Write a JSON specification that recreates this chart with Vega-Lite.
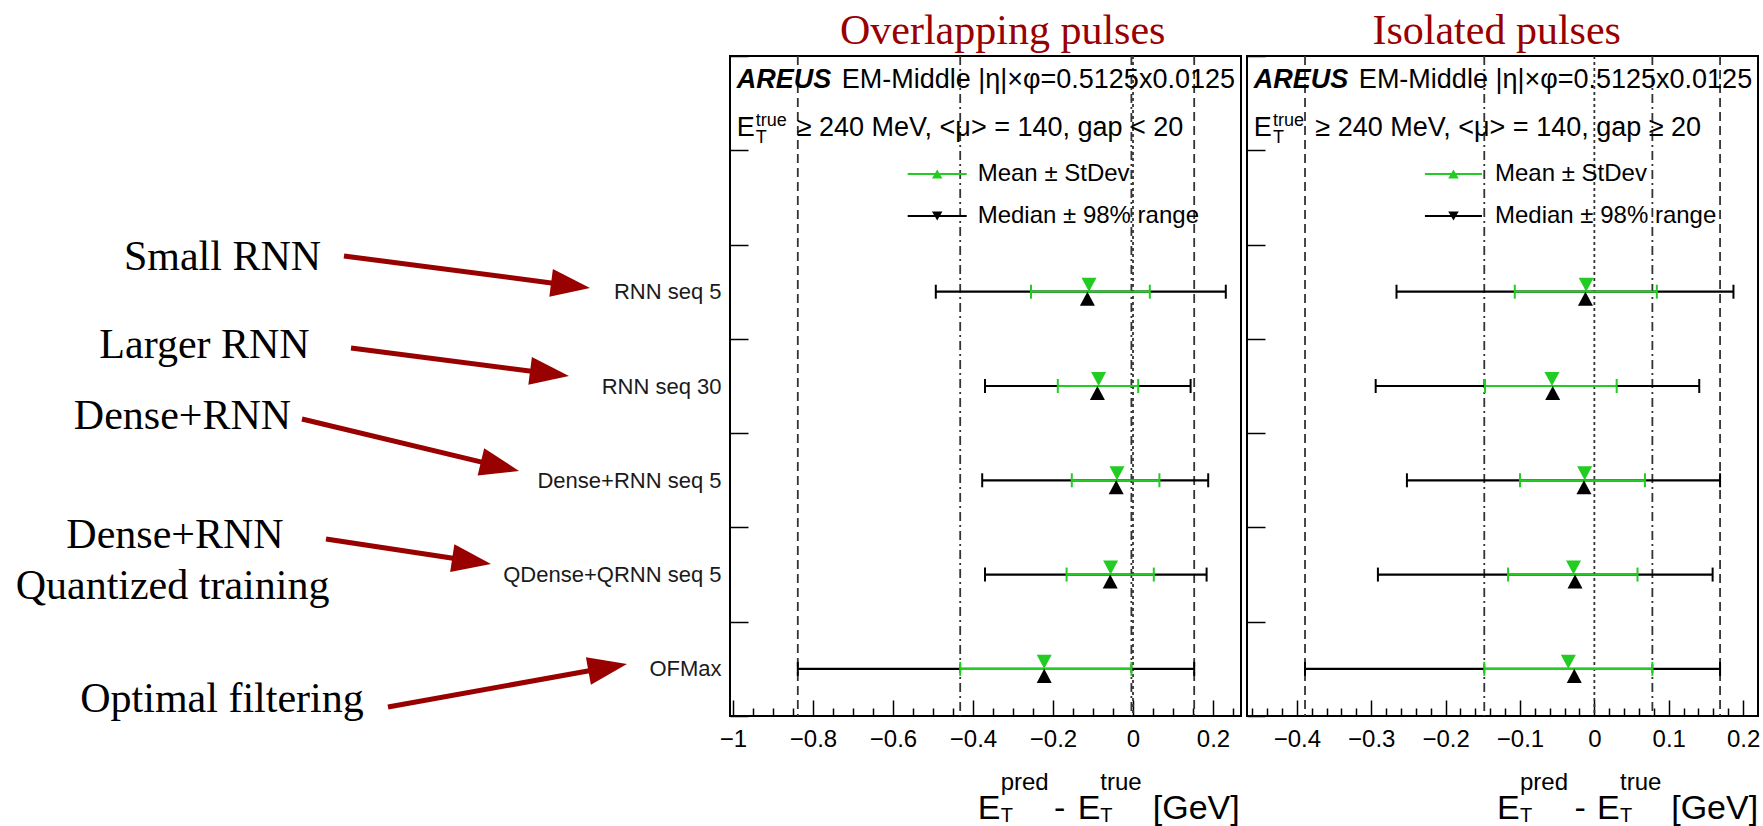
{
"$schema": "https://vega.github.io/schema/vega-lite/v6.json",
"background": "white",
"padding": {"left": 0, "top": 9, "right": 0, "bottom": 0},
"bounds": "flush",
"spacing": 6,
"config": {
  "view": {"stroke": "black", "strokeWidth": 2},
  "font": "Liberation Sans",
  "text": {"font": "Liberation Sans", "color": "black"},
  "axis": {"grid": false, "domain": false}
},
"datasets": {
  "overlap": [
    {"model": "RNN seq 5", "stat": "Median ± 98% range", "center": -0.114, "lo": -0.493, "hi": 0.232},
    {"model": "RNN seq 30", "stat": "Median ± 98% range", "center": -0.089, "lo": -0.370, "hi": 0.144},
    {"model": "Dense+RNN seq 5", "stat": "Median ± 98% range", "center": -0.042, "lo": -0.377, "hi": 0.188},
    {"model": "QDense+QRNN seq 5", "stat": "Median ± 98% range", "center": -0.057, "lo": -0.370, "hi": 0.184},
    {"model": "OFMax", "stat": "Median ± 98% range", "center": -0.222, "lo": -0.838, "hi": 0.153},
    {"model": "RNN seq 5", "stat": "Mean ± StDev", "center": -0.110, "lo": -0.255, "hi": 0.042},
    {"model": "RNN seq 30", "stat": "Mean ± StDev", "center": -0.086, "lo": -0.188, "hi": 0.013},
    {"model": "Dense+RNN seq 5", "stat": "Mean ± StDev", "center": -0.040, "lo": -0.153, "hi": 0.066},
    {"model": "QDense+QRNN seq 5", "stat": "Mean ± StDev", "center": -0.056, "lo": -0.166, "hi": 0.052},
    {"model": "OFMax", "stat": "Mean ± StDev", "center": -0.222, "lo": -0.432, "hi": -0.004}
  ],
  "isolated": [
    {"model": "RNN seq 5", "stat": "Median ± 98% range", "center": -0.012, "lo": -0.266, "hi": 0.187},
    {"model": "RNN seq 30", "stat": "Median ± 98% range", "center": -0.056, "lo": -0.294, "hi": 0.141},
    {"model": "Dense+RNN seq 5", "stat": "Median ± 98% range", "center": -0.014, "lo": -0.252, "hi": 0.169},
    {"model": "QDense+QRNN seq 5", "stat": "Median ± 98% range", "center": -0.026, "lo": -0.291, "hi": 0.159},
    {"model": "OFMax", "stat": "Median ± 98% range", "center": -0.027, "lo": -0.389, "hi": 0.169},
    {"model": "RNN seq 5", "stat": "Mean ± StDev", "center": -0.011, "lo": -0.107, "hi": 0.084},
    {"model": "RNN seq 30", "stat": "Mean ± StDev", "center": -0.057, "lo": -0.147, "hi": 0.030},
    {"model": "Dense+RNN seq 5", "stat": "Mean ± StDev", "center": -0.013, "lo": -0.100, "hi": 0.068},
    {"model": "QDense+QRNN seq 5", "stat": "Mean ± StDev", "center": -0.028, "lo": -0.116, "hi": 0.058},
    {"model": "OFMax", "stat": "Mean ± StDev", "center": -0.035, "lo": -0.148, "hi": 0.078}
  ]
},
"resolve": {
  "scale": {"x": "independent", "y": "independent", "color": "independent", "shape": "independent", "strokeDash": "independent"}
},
"hconcat": [
  {
    "width": 724, "height": 660,
    "view": {"stroke": null, "fill": "white"},
    "layer": [
      {"data": {"values": [{}]}, "mark": {"type": "text", "text": "Small RNN", "font": "Liberation Serif", "fontSize": 42, "align": "center", "baseline": "alphabetic", "color": "black"},
       "encoding": {"x": {"datum": 0.3073, "type": "quantitative", "scale": {"domain": [0, 1]}, "axis": null}, "y": {"datum": 0.6758, "type": "quantitative", "scale": {"domain": [0, 1]}, "axis": null}}},
      {"data": {"values": [{}]}, "mark": {"type": "text", "text": "Larger RNN", "font": "Liberation Serif", "fontSize": 42, "align": "center", "baseline": "alphabetic", "color": "black"},
       "encoding": {"x": {"datum": 0.2825, "type": "quantitative", "axis": null}, "y": {"datum": 0.5424, "type": "quantitative", "axis": null}}},
      {"data": {"values": [{}]}, "mark": {"type": "text", "text": "Dense+RNN", "font": "Liberation Serif", "fontSize": 42, "align": "center", "baseline": "alphabetic", "color": "black"},
       "encoding": {"x": {"datum": 0.2521, "type": "quantitative", "axis": null}, "y": {"datum": 0.4348, "type": "quantitative", "axis": null}}},
      {"data": {"values": [{}]}, "mark": {"type": "text", "text": "Dense+RNN", "font": "Liberation Serif", "fontSize": 42, "align": "center", "baseline": "alphabetic", "color": "black"},
       "encoding": {"x": {"datum": 0.2417, "type": "quantitative", "axis": null}, "y": {"datum": 0.2545, "type": "quantitative", "axis": null}}},
      {"data": {"values": [{}]}, "mark": {"type": "text", "text": "Quantized training", "font": "Liberation Serif", "fontSize": 42, "align": "center", "baseline": "alphabetic", "color": "black"},
       "encoding": {"x": {"datum": 0.2383, "type": "quantitative", "axis": null}, "y": {"datum": 0.1773, "type": "quantitative", "axis": null}}},
      {"data": {"values": [{}]}, "mark": {"type": "text", "text": "Optimal filtering", "font": "Liberation Serif", "fontSize": 42, "align": "center", "baseline": "alphabetic", "color": "black"},
       "encoding": {"x": {"datum": 0.3066, "type": "quantitative", "axis": null}, "y": {"datum": 0.006, "type": "quantitative", "axis": null}}},
      {"data": {"values": [{}]}, "mark": {"type": "rule", "color": "#990000", "strokeWidth": 5},
       "encoding": {"x": {"datum": 0.4751, "type": "quantitative", "axis": null}, "y": {"datum": 0.6970, "type": "quantitative", "axis": null}, "x2": {"datum": 0.7876}, "y2": {"datum": 0.6524}}},
      {"data": {"values": [{}]}, "mark": {"type": "point", "shape": "M0,0L-2.8,-1L-2.8,1Z", "size": 784, "angle": 7.4, "filled": true, "color": "#990000", "opacity": 1, "strokeWidth": 0},
       "encoding": {"x": {"datum": 0.8149, "type": "quantitative", "axis": null}, "y": {"datum": 0.6485, "type": "quantitative", "axis": null}}},
      {"data": {"values": [{}]}, "mark": {"type": "rule", "color": "#990000", "strokeWidth": 5},
       "encoding": {"x": {"datum": 0.4848, "type": "quantitative", "axis": null}, "y": {"datum": 0.5576, "type": "quantitative", "axis": null}, "x2": {"datum": 0.7586}, "y2": {"datum": 0.5189}}},
      {"data": {"values": [{}]}, "mark": {"type": "point", "shape": "M0,0L-2.8,-1L-2.8,1Z", "size": 784, "angle": 7.3, "filled": true, "color": "#990000", "opacity": 1, "strokeWidth": 0},
       "encoding": {"x": {"datum": 0.7859, "type": "quantitative", "axis": null}, "y": {"datum": 0.5152, "type": "quantitative", "axis": null}}},
      {"data": {"values": [{}]}, "mark": {"type": "rule", "color": "#990000", "strokeWidth": 5},
       "encoding": {"x": {"datum": 0.4171, "type": "quantitative", "axis": null}, "y": {"datum": 0.45, "type": "quantitative", "axis": null}, "x2": {"datum": 0.6899}, "y2": {"datum": 0.3783}}},
      {"data": {"values": [{}]}, "mark": {"type": "point", "shape": "M0,0L-2.8,-1L-2.8,1Z", "size": 784, "angle": 13.5, "filled": true, "color": "#990000", "opacity": 1, "strokeWidth": 0},
       "encoding": {"x": {"datum": 0.7169, "type": "quantitative", "axis": null}, "y": {"datum": 0.3712, "type": "quantitative", "axis": null}}},
      {"data": {"values": [{}]}, "mark": {"type": "rule", "color": "#990000", "strokeWidth": 5},
       "encoding": {"x": {"datum": 0.4503, "type": "quantitative", "axis": null}, "y": {"datum": 0.2682, "type": "quantitative", "axis": null}, "x2": {"datum": 0.6508}, "y2": {"datum": 0.2348}}},
      {"data": {"values": [{}]}, "mark": {"type": "point", "shape": "M0,0L-2.8,-1L-2.8,1Z", "size": 784, "angle": 8.6, "filled": true, "color": "#990000", "opacity": 1, "strokeWidth": 0},
       "encoding": {"x": {"datum": 0.6782, "type": "quantitative", "axis": null}, "y": {"datum": 0.2303, "type": "quantitative", "axis": null}}},
      {"data": {"values": [{}]}, "mark": {"type": "rule", "color": "#990000", "strokeWidth": 5},
       "encoding": {"x": {"datum": 0.5359, "type": "quantitative", "axis": null}, "y": {"datum": 0.0136, "type": "quantitative", "axis": null}, "x2": {"datum": 0.8388}, "y2": {"datum": 0.0735}}},
      {"data": {"values": [{}]}, "mark": {"type": "point", "shape": "M0,0L-2.8,-1L-2.8,1Z", "size": 784, "angle": -10.2, "filled": true, "color": "#990000", "opacity": 1, "strokeWidth": 0},
       "encoding": {"x": {"datum": 0.866, "type": "quantitative", "axis": null}, "y": {"datum": 0.0788, "type": "quantitative", "axis": null}}}
    ]
  },
  {
    "width": 511, "height": 660,
    "data": {"name": "overlap"},
    "resolve": {"axis": {"x": "independent"}},
    "layer": [
      {"transform": [{"filter": "datum.model === 'OFMax'"}],
       "mark": {"type": "rule", "color": "#333333", "strokeWidth": 1.8},
       "encoding": {
         "x": {"field": "lo", "type": "quantitative", "title": null,
               "scale": {"domain": [-1.0075, 0.27], "nice": false, "zero": false},
               "axis": {"title": null, "orient": "bottom", "domain": false, "grid": false,
                        "values": [-1, -0.8, -0.6, -0.4, -0.2, 0, 0.2], "format": "~g",
                        "tickSize": -16, "tickColor": "black", "tickWidth": 1.5,
                        "labelFont": "Liberation Sans", "labelFontSize": 24, "labelColor": "black", "labelPadding": 27,
                        "labelOverlap": false, "labelFlush": false}},
         "strokeDash": {"field": "stat", "type": "nominal", "scale": {"domain": ["Mean ± StDev", "Median ± 98% range"], "range": [[9, 4, 2, 4], [9, 5]]}, "legend": null}
       }},
      {"transform": [{"filter": "datum.model === 'OFMax'"}],
       "mark": {"type": "rule", "color": "#333333", "strokeWidth": 1.8},
       "encoding": {
         "x": {"field": "hi", "type": "quantitative", "title": null,
               "axis": {"title": null, "orient": "top", "domain": false, "grid": false, "ticks": false, "labels": false}},
         "strokeDash": {"field": "stat", "type": "nominal", "legend": null}
       }},
      {"data": {"values": [{}]},
       "mark": {"type": "rule", "color": "#333333", "strokeWidth": 1.8, "strokeDash": [3, 3]},
       "encoding": {"x": {"datum": 0, "type": "quantitative",
               "axis": {"title": null, "orient": "bottom", "domain": false, "grid": false,
                        "values": [-0.95, -0.9, -0.85, -0.75, -0.7, -0.65, -0.55, -0.5, -0.45, -0.35, -0.3, -0.25, -0.15, -0.1, -0.05, 0.05, 0.1, 0.15, 0.25],
                        "tickSize": -8, "tickColor": "black", "tickWidth": 1.5, "labels": false}}}},
      {"mark": {"type": "rule", "strokeWidth": 2.2},
       "encoding": {
         "x": {"field": "lo", "type": "quantitative", "title": null, "axis": null},
         "x2": {"field": "hi"},
         "y": {"field": "model", "type": "nominal", "title": null,
               "scale": {"type": "band", "domain": ["hdr1", "hdr2", "RNN seq 5", "RNN seq 30", "Dense+RNN seq 5", "QDense+QRNN seq 5", "OFMax"], "paddingInner": 0, "paddingOuter": 0},
               "axis": {"title": null, "domain": false, "grid": false, "tickBand": "extent", "tickSize": -18, "tickColor": "black", "tickWidth": 1.5,
                        "labelFont": "Liberation Sans", "labelFontSize": 22, "labelColor": "#1a1a1a", "labelPadding": 27, "labelLimit": 400,
                        "labelExpr": "datum.value === 'hdr1' || datum.value === 'hdr2' ? '' : datum.label"}},
         "color": {"field": "stat", "type": "nominal",
                   "scale": {"domain": ["Mean ± StDev", "Median ± 98% range"], "range": ["#22cc22", "black"]}, "legend": null}
       }},
      {"mark": {"type": "tick", "thickness": 2, "size": 14, "opacity": 1},
       "encoding": {"x": {"field": "lo", "type": "quantitative", "title": null, "axis": null}, "y": {"field": "model", "type": "nominal", "title": null}, "color": {"field": "stat", "type": "nominal", "legend": null}}},
      {"mark": {"type": "tick", "thickness": 2, "size": 14, "opacity": 1},
       "encoding": {"x": {"field": "hi", "type": "quantitative", "title": null, "axis": null}, "y": {"field": "model", "type": "nominal", "title": null}, "color": {"field": "stat", "type": "nominal", "legend": null}}},
      {"mark": {"type": "point", "filled": true, "size": 225, "opacity": 1, "strokeWidth": 0},
       "encoding": {"x": {"field": "center", "type": "quantitative", "title": null, "axis": null}, "y": {"field": "model", "type": "nominal", "title": null},
                    "color": {"field": "stat", "type": "nominal", "legend": null},
                    "shape": {"field": "stat", "type": "nominal", "scale": {"domain": ["Mean ± StDev", "Median ± 98% range"], "range": ["M-1,-1.87L1,-1.87L0,0Z", "M-1,1.87L1,1.87L0,0Z"]}, "legend": null}}},
      {"data": {"values": [{}]}, "mark": {"type": "text", "text": "Overlapping pulses", "font": "Liberation Serif", "fontSize": 42, "color": "#990000", "align": "center", "baseline": "alphabetic"},
       "encoding": {"x": {"datum": -0.3258, "type": "quantitative", "axis": null}, "y": {"datum": "hdr1", "type": "nominal", "bandPosition": -0.127}}},
      {"data": {"values": [{}]}, "mark": {"type": "rule", "color": "#22cc22", "strokeWidth": 2},
       "encoding": {"x": {"datum": -0.5633, "type": "quantitative", "axis": null}, "x2": {"datum": -0.4158}, "y": {"datum": "hdr2", "type": "nominal", "bandPosition": 0.251}}},
      {"data": {"values": [{}]}, "mark": {"type": "point", "shape": "triangle-up", "size": 110, "filled": true, "color": "#22cc22", "opacity": 1, "strokeWidth": 0},
       "encoding": {"x": {"datum": -0.4895, "type": "quantitative", "axis": null}, "y": {"datum": "hdr2", "type": "nominal", "bandPosition": 0.251}}},
      {"data": {"values": [{}]}, "mark": {"type": "text", "text": "Mean ± StDev", "fontSize": 24, "align": "left", "baseline": "middle"},
       "encoding": {"x": {"datum": -0.3883, "type": "quantitative", "axis": null}, "y": {"datum": "hdr2", "type": "nominal", "bandPosition": 0.251}}},
      {"data": {"values": [{}]}, "mark": {"type": "rule", "color": "black", "strokeWidth": 2},
       "encoding": {"x": {"datum": -0.5633, "type": "quantitative", "axis": null}, "x2": {"datum": -0.4158}, "y": {"datum": "hdr2", "type": "nominal", "bandPosition": 0.697}}},
      {"data": {"values": [{}]}, "mark": {"type": "point", "shape": "triangle-down", "size": 110, "filled": true, "color": "black", "opacity": 1, "strokeWidth": 0},
       "encoding": {"x": {"datum": -0.4895, "type": "quantitative", "axis": null}, "y": {"datum": "hdr2", "type": "nominal", "bandPosition": 0.697}}},
      {"data": {"values": [{}]}, "mark": {"type": "text", "text": "Median ± 98% range", "fontSize": 24, "align": "left", "baseline": "middle"},
       "encoding": {"x": {"datum": -0.3883, "type": "quantitative", "axis": null}, "y": {"datum": "hdr2", "type": "nominal", "bandPosition": 0.697}}},
      {"data": {"values": [{}]}, "mark": {"type": "text", "text": "AREUS", "fontSize": 27, "fontStyle": "italic", "fontWeight": "bold", "align": "left", "baseline": "alphabetic"},
       "encoding": {"x": {"datum": -0.9908, "type": "quantitative", "axis": null}, "y": {"datum": "hdr1", "type": "nominal", "bandPosition": 0.339}}},
      {"data": {"values": [{}]}, "mark": {"type": "text", "text": "EM-Middle |η|×φ=0.5125x0.0125", "fontSize": 27, "align": "left", "baseline": "alphabetic"},
       "encoding": {"x": {"datum": -0.7283, "type": "quantitative", "axis": null}, "y": {"datum": "hdr1", "type": "nominal", "bandPosition": 0.339}}},
      {"data": {"values": [{}]}, "mark": {"type": "text", "text": "E", "fontSize": 27, "align": "left", "baseline": "alphabetic"},
       "encoding": {"x": {"datum": -0.9908, "type": "quantitative", "axis": null}, "y": {"datum": "hdr1", "type": "nominal", "bandPosition": 0.848}}},
      {"data": {"values": [{}]}, "mark": {"type": "text", "text": "true", "fontSize": 18, "align": "left", "baseline": "alphabetic"},
       "encoding": {"x": {"datum": -0.9433, "type": "quantitative", "axis": null}, "y": {"datum": "hdr1", "type": "nominal", "bandPosition": 0.742}}},
      {"data": {"values": [{}]}, "mark": {"type": "text", "text": "T", "fontSize": 18, "align": "left", "baseline": "alphabetic"},
       "encoding": {"x": {"datum": -0.9433, "type": "quantitative", "axis": null}, "y": {"datum": "hdr1", "type": "nominal", "bandPosition": 0.923}}},
      {"data": {"values": [{}]}, "mark": {"type": "text", "text": "≥ 240 MeV, <μ> = 140, gap < 20", "fontSize": 27, "align": "left", "baseline": "alphabetic"},
       "encoding": {"x": {"datum": -0.8408, "type": "quantitative", "axis": null}, "y": {"datum": "hdr1", "type": "nominal", "bandPosition": 0.848}}},
      {"data": {"values": [{}]}, "mark": {"type": "text", "text": "E", "fontSize": 34, "align": "left", "baseline": "alphabetic"},
       "encoding": {"x": {"datum": -0.3883, "type": "quantitative", "axis": null}, "y": {"datum": "OFMax", "type": "nominal", "bandPosition": 2.09}}},
      {"data": {"values": [{}]}, "mark": {"type": "text", "text": "pred", "fontSize": 24, "align": "left", "baseline": "alphabetic"},
       "encoding": {"x": {"datum": -0.3308, "type": "quantitative", "axis": null}, "y": {"datum": "OFMax", "type": "nominal", "bandPosition": 1.79}}},
      {"data": {"values": [{}]}, "mark": {"type": "text", "text": "T", "fontSize": 20, "align": "left", "baseline": "alphabetic"},
       "encoding": {"x": {"datum": -0.3308, "type": "quantitative", "axis": null}, "y": {"datum": "OFMax", "type": "nominal", "bandPosition": 2.125}}},
      {"data": {"values": [{}]}, "mark": {"type": "text", "text": "-", "fontSize": 34, "align": "center", "baseline": "alphabetic"},
       "encoding": {"x": {"datum": -0.1833, "type": "quantitative", "axis": null}, "y": {"datum": "OFMax", "type": "nominal", "bandPosition": 2.09}}},
      {"data": {"values": [{}]}, "mark": {"type": "text", "text": "E", "fontSize": 34, "align": "left", "baseline": "alphabetic"},
       "encoding": {"x": {"datum": -0.1383, "type": "quantitative", "axis": null}, "y": {"datum": "OFMax", "type": "nominal", "bandPosition": 2.09}}},
      {"data": {"values": [{}]}, "mark": {"type": "text", "text": "true", "fontSize": 24, "align": "left", "baseline": "alphabetic"},
       "encoding": {"x": {"datum": -0.0818, "type": "quantitative", "axis": null}, "y": {"datum": "OFMax", "type": "nominal", "bandPosition": 1.79}}},
      {"data": {"values": [{}]}, "mark": {"type": "text", "text": "T", "fontSize": 20, "align": "left", "baseline": "alphabetic"},
       "encoding": {"x": {"datum": -0.0818, "type": "quantitative", "axis": null}, "y": {"datum": "OFMax", "type": "nominal", "bandPosition": 2.125}}},
      {"data": {"values": [{}]}, "mark": {"type": "text", "text": "[GeV]", "fontSize": 34, "align": "right", "baseline": "alphabetic"},
       "encoding": {"x": {"datum": 0.2668, "type": "quantitative", "axis": null}, "y": {"datum": "OFMax", "type": "nominal", "bandPosition": 2.09}}}
    ]
  },
  {
    "width": 511, "height": 660,
    "data": {"name": "isolated"},
    "resolve": {"axis": {"x": "independent"}},
    "layer": [
      {"transform": [{"filter": "datum.model === 'OFMax'"}],
       "mark": {"type": "rule", "color": "#333333", "strokeWidth": 1.8},
       "encoding": {
         "x": {"field": "lo", "type": "quantitative", "title": null,
               "scale": {"domain": [-0.467, 0.22], "nice": false, "zero": false},
               "axis": {"title": null, "orient": "bottom", "domain": false, "grid": false,
                        "values": [-0.4, -0.3, -0.2, -0.1, 0, 0.1, 0.2], "format": "~g",
                        "tickSize": -16, "tickColor": "black", "tickWidth": 1.5,
                        "labelFont": "Liberation Sans", "labelFontSize": 24, "labelColor": "black", "labelPadding": 27,
                        "labelOverlap": false, "labelFlush": false}},
         "strokeDash": {"field": "stat", "type": "nominal", "scale": {"domain": ["Mean ± StDev", "Median ± 98% range"], "range": [[9, 4, 2, 4], [9, 5]]}, "legend": null}
       }},
      {"transform": [{"filter": "datum.model === 'OFMax'"}],
       "mark": {"type": "rule", "color": "#333333", "strokeWidth": 1.8},
       "encoding": {
         "x": {"field": "hi", "type": "quantitative", "title": null,
               "axis": {"title": null, "orient": "top", "domain": false, "grid": false, "ticks": false, "labels": false}},
         "strokeDash": {"field": "stat", "type": "nominal", "legend": null}
       }},
      {"data": {"values": [{}]},
       "mark": {"type": "rule", "color": "#333333", "strokeWidth": 1.8, "strokeDash": [3, 3]},
       "encoding": {"x": {"datum": 0, "type": "quantitative",
               "axis": {"title": null, "orient": "bottom", "domain": false, "grid": false,
                        "values": [-0.46, -0.44, -0.42, -0.38, -0.36, -0.34, -0.32, -0.28, -0.26, -0.24, -0.22, -0.18, -0.16, -0.14, -0.12, -0.08, -0.06, -0.04, -0.02, 0.02, 0.04, 0.06, 0.08, 0.12, 0.14, 0.16, 0.18],
                        "tickSize": -8, "tickColor": "black", "tickWidth": 1.5, "labels": false}}}},
      {"mark": {"type": "rule", "strokeWidth": 2.2},
       "encoding": {
         "x": {"field": "lo", "type": "quantitative", "title": null, "axis": null},
         "x2": {"field": "hi"},
         "y": {"field": "model", "type": "nominal", "title": null,
               "scale": {"type": "band", "domain": ["hdr1", "hdr2", "RNN seq 5", "RNN seq 30", "Dense+RNN seq 5", "QDense+QRNN seq 5", "OFMax"], "paddingInner": 0, "paddingOuter": 0},
               "axis": {"title": null, "domain": false, "grid": false, "tickBand": "extent", "tickSize": -18, "tickColor": "black", "tickWidth": 1.5, "labels": false}},
         "color": {"field": "stat", "type": "nominal",
                   "scale": {"domain": ["Mean ± StDev", "Median ± 98% range"], "range": ["#22cc22", "black"]}, "legend": null}
       }},
      {"mark": {"type": "tick", "thickness": 2, "size": 14, "opacity": 1},
       "encoding": {"x": {"field": "lo", "type": "quantitative", "title": null, "axis": null}, "y": {"field": "model", "type": "nominal", "title": null}, "color": {"field": "stat", "type": "nominal", "legend": null}}},
      {"mark": {"type": "tick", "thickness": 2, "size": 14, "opacity": 1},
       "encoding": {"x": {"field": "hi", "type": "quantitative", "title": null, "axis": null}, "y": {"field": "model", "type": "nominal", "title": null}, "color": {"field": "stat", "type": "nominal", "legend": null}}},
      {"mark": {"type": "point", "filled": true, "size": 225, "opacity": 1, "strokeWidth": 0},
       "encoding": {"x": {"field": "center", "type": "quantitative", "title": null, "axis": null}, "y": {"field": "model", "type": "nominal", "title": null},
                    "color": {"field": "stat", "type": "nominal", "legend": null},
                    "shape": {"field": "stat", "type": "nominal", "scale": {"domain": ["Mean ± StDev", "Median ± 98% range"], "range": ["M-1,-1.87L1,-1.87L0,0Z", "M-1,1.87L1,1.87L0,0Z"]}, "legend": null}}},
      {"data": {"values": [{}]}, "mark": {"type": "text", "text": "Isolated pulses", "font": "Liberation Serif", "fontSize": 42, "color": "#990000", "align": "center", "baseline": "alphabetic"},
       "encoding": {"x": {"datum": -0.1313, "type": "quantitative", "axis": null}, "y": {"datum": "hdr1", "type": "nominal", "bandPosition": -0.127}}},
      {"data": {"values": [{}]}, "mark": {"type": "rule", "color": "#22cc22", "strokeWidth": 2},
       "encoding": {"x": {"datum": -0.2278, "type": "quantitative", "axis": null}, "x2": {"datum": -0.1511}, "y": {"datum": "hdr2", "type": "nominal", "bandPosition": 0.251}}},
      {"data": {"values": [{}]}, "mark": {"type": "point", "shape": "triangle-up", "size": 110, "filled": true, "color": "#22cc22", "opacity": 1, "strokeWidth": 0},
       "encoding": {"x": {"datum": -0.1894, "type": "quantitative", "axis": null}, "y": {"datum": "hdr2", "type": "nominal", "bandPosition": 0.251}}},
      {"data": {"values": [{}]}, "mark": {"type": "text", "text": "Mean ± StDev", "fontSize": 24, "align": "left", "baseline": "middle"},
       "encoding": {"x": {"datum": -0.1336, "type": "quantitative", "axis": null}, "y": {"datum": "hdr2", "type": "nominal", "bandPosition": 0.251}}},
      {"data": {"values": [{}]}, "mark": {"type": "rule", "color": "black", "strokeWidth": 2},
       "encoding": {"x": {"datum": -0.2278, "type": "quantitative", "axis": null}, "x2": {"datum": -0.1511}, "y": {"datum": "hdr2", "type": "nominal", "bandPosition": 0.697}}},
      {"data": {"values": [{}]}, "mark": {"type": "point", "shape": "triangle-down", "size": 110, "filled": true, "color": "black", "opacity": 1, "strokeWidth": 0},
       "encoding": {"x": {"datum": -0.1894, "type": "quantitative", "axis": null}, "y": {"datum": "hdr2", "type": "nominal", "bandPosition": 0.697}}},
      {"data": {"values": [{}]}, "mark": {"type": "text", "text": "Median ± 98% range", "fontSize": 24, "align": "left", "baseline": "middle"},
       "encoding": {"x": {"datum": -0.1336, "type": "quantitative", "axis": null}, "y": {"datum": "hdr2", "type": "nominal", "bandPosition": 0.697}}},
      {"data": {"values": [{}]}, "mark": {"type": "text", "text": "AREUS", "fontSize": 27, "fontStyle": "italic", "fontWeight": "bold", "align": "left", "baseline": "alphabetic"},
       "encoding": {"x": {"datum": -0.4578, "type": "quantitative", "axis": null}, "y": {"datum": "hdr1", "type": "nominal", "bandPosition": 0.339}}},
      {"data": {"values": [{}]}, "mark": {"type": "text", "text": "EM-Middle |η|×φ=0.5125x0.0125", "fontSize": 27, "align": "left", "baseline": "alphabetic"},
       "encoding": {"x": {"datum": -0.3166, "type": "quantitative", "axis": null}, "y": {"datum": "hdr1", "type": "nominal", "bandPosition": 0.339}}},
      {"data": {"values": [{}]}, "mark": {"type": "text", "text": "E", "fontSize": 27, "align": "left", "baseline": "alphabetic"},
       "encoding": {"x": {"datum": -0.4578, "type": "quantitative", "axis": null}, "y": {"datum": "hdr1", "type": "nominal", "bandPosition": 0.848}}},
      {"data": {"values": [{}]}, "mark": {"type": "text", "text": "true", "fontSize": 18, "align": "left", "baseline": "alphabetic"},
       "encoding": {"x": {"datum": -0.4321, "type": "quantitative", "axis": null}, "y": {"datum": "hdr1", "type": "nominal", "bandPosition": 0.742}}},
      {"data": {"values": [{}]}, "mark": {"type": "text", "text": "T", "fontSize": 18, "align": "left", "baseline": "alphabetic"},
       "encoding": {"x": {"datum": -0.4321, "type": "quantitative", "axis": null}, "y": {"datum": "hdr1", "type": "nominal", "bandPosition": 0.923}}},
      {"data": {"values": [{}]}, "mark": {"type": "text", "text": "≥ 240 MeV, <μ> = 140, gap ≥ 20", "fontSize": 27, "align": "left", "baseline": "alphabetic"},
       "encoding": {"x": {"datum": -0.3751, "type": "quantitative", "axis": null}, "y": {"datum": "hdr1", "type": "nominal", "bandPosition": 0.848}}},
      {"data": {"values": [{}]}, "mark": {"type": "text", "text": "E", "fontSize": 34, "align": "left", "baseline": "alphabetic"},
       "encoding": {"x": {"datum": -0.1309, "type": "quantitative", "axis": null}, "y": {"datum": "OFMax", "type": "nominal", "bandPosition": 2.09}}},
      {"data": {"values": [{}]}, "mark": {"type": "text", "text": "pred", "fontSize": 24, "align": "left", "baseline": "alphabetic"},
       "encoding": {"x": {"datum": -0.1, "type": "quantitative", "axis": null}, "y": {"datum": "OFMax", "type": "nominal", "bandPosition": 1.79}}},
      {"data": {"values": [{}]}, "mark": {"type": "text", "text": "T", "fontSize": 20, "align": "left", "baseline": "alphabetic"},
       "encoding": {"x": {"datum": -0.1, "type": "quantitative", "axis": null}, "y": {"datum": "OFMax", "type": "nominal", "bandPosition": 2.125}}},
      {"data": {"values": [{}]}, "mark": {"type": "text", "text": "-", "fontSize": 34, "align": "center", "baseline": "alphabetic"},
       "encoding": {"x": {"datum": -0.0192, "type": "quantitative", "axis": null}, "y": {"datum": "OFMax", "type": "nominal", "bandPosition": 2.09}}},
      {"data": {"values": [{}]}, "mark": {"type": "text", "text": "E", "fontSize": 34, "align": "left", "baseline": "alphabetic"},
       "encoding": {"x": {"datum": 0.0036, "type": "quantitative", "axis": null}, "y": {"datum": "OFMax", "type": "nominal", "bandPosition": 2.09}}},
      {"data": {"values": [{}]}, "mark": {"type": "text", "text": "true", "fontSize": 24, "align": "left", "baseline": "alphabetic"},
       "encoding": {"x": {"datum": 0.0346, "type": "quantitative", "axis": null}, "y": {"datum": "OFMax", "type": "nominal", "bandPosition": 1.79}}},
      {"data": {"values": [{}]}, "mark": {"type": "text", "text": "T", "fontSize": 20, "align": "left", "baseline": "alphabetic"},
       "encoding": {"x": {"datum": 0.0346, "type": "quantitative", "axis": null}, "y": {"datum": "OFMax", "type": "nominal", "bandPosition": 2.125}}},
      {"data": {"values": [{}]}, "mark": {"type": "text", "text": "[GeV]", "fontSize": 34, "align": "right", "baseline": "alphabetic"},
       "encoding": {"x": {"datum": 0.2202, "type": "quantitative", "axis": null}, "y": {"datum": "OFMax", "type": "nominal", "bandPosition": 2.09}}}
    ]
  }
]
}
